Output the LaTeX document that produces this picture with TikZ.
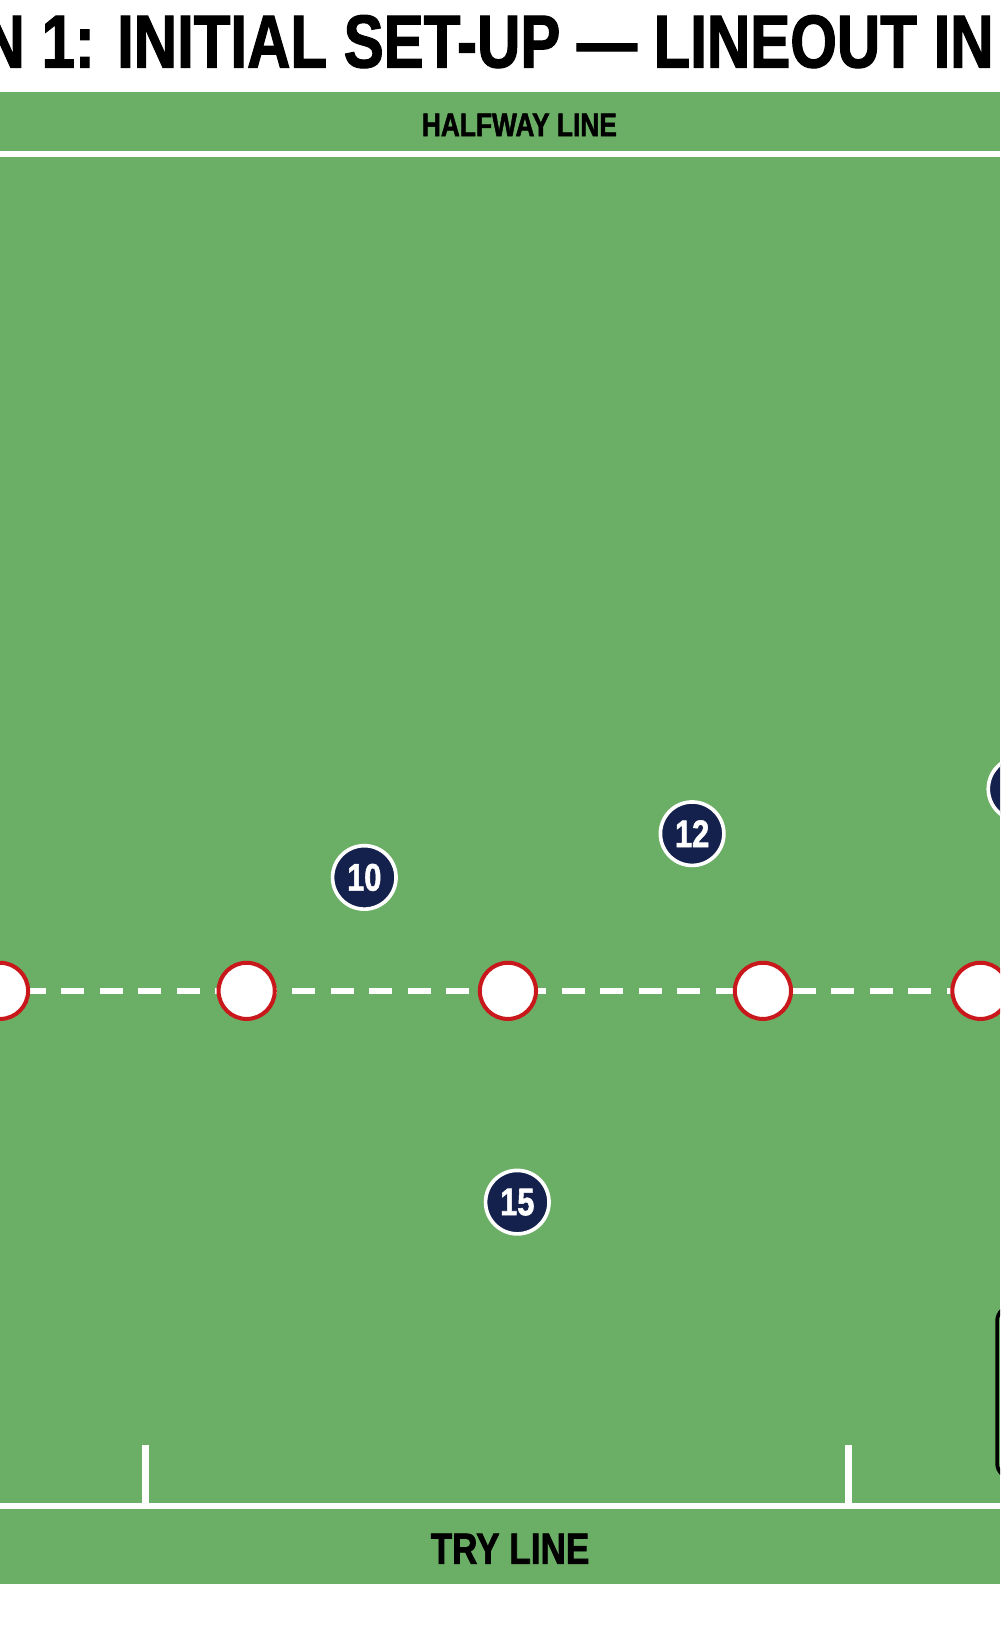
\documentclass[tikz,border=0pt]{standalone}
\usepackage{fontspec}
\setmainfont{Liberation Sans}
\newfontfamily\cond[FakeStretch=0.8,FakeBold=1.5]{Liberation Sans}
\newfontfamily\condb[FakeStretch=0.8]{Liberation Sans}
\definecolor{pitch}{RGB}{107,174,101}
\definecolor{navy}{RGB}{20,33,77}
\definecolor{conered}{RGB}{200,24,28}
\begin{document}
\begin{tikzpicture}[x=0.02cm,y=-0.02cm,
  cone/.style={circle,draw=conered,line width=2.2pt,fill=white,minimum size=1.08cm,inner sep=0},
  plyr/.style={circle,draw=white,line width=2pt,fill=navy,minimum size=1.22cm,inner sep=0,text=white,font=\cond\bfseries\fontsize{21}{21}\selectfont},
  wline/.style={white,line width=3.6pt}]
\useasboundingbox (0,0) rectangle (961,1568);
\clip (0,0) rectangle (961,1568);
\fill[white] (0,0) rectangle (961,1568);
\fill[pitch] (0,88) rectangle (961,1522);
\node[font=\cond\bfseries\fontsize{41}{41}\selectfont,anchor=west,inner sep=0] (title) at (-18,40) {N 1: INITIAL SET-UP — LINEOUT IN};
\node[font=\cond\bfseries\fontsize{18}{18}\selectfont] (hw) at (499,120) {HALFWAY LINE};
\node[font=\cond\bfseries\fontsize{24}{24}\selectfont] (tl) at (490,1488) {TRY LINE};
\coordinate (hl) at (0,148); \coordinate (hr) at (961,148);
\draw[wline] (hl) -- (hr);
\coordinate (tll) at (0,1447); \coordinate (tlr) at (961,1447);
\draw[wline] (tll) -- (tlr);
\coordinate (k1t) at (140,1388); \coordinate (k1b) at (140,1447);
\coordinate (k2t) at (815,1388); \coordinate (k2b) at (815,1447);
\draw[wline] (k1t) -- (k1b);
\draw[wline] (k2t) -- (k2b);
\coordinate (dl) at (-10,952); \coordinate (dr) at (970,952);
\draw[white,line width=3.2pt,dash pattern=on 0.44cm off 0.3cm,dash phase=0.1cm] (dl) -- (dr);
\draw[line width=2pt,rounded corners=8pt] (958,1255) rectangle (1100,1420);
\node[cone] (c1) at (0,952) {};
\node[cone] (c2) at (237,952) {};
\node[cone] (c3) at (488,952) {};
\node[cone] (c4) at (733,952) {};
\node[cone] (c5) at (942,952) {};
\node[plyr] (p10) at (350,843) {10};
\node[plyr] (p12) at (665,801) {12};
\node[plyr] (p15) at (497,1155) {15};
\node[plyr] (px) at (980,758) {};
\end{tikzpicture}
\end{document}
